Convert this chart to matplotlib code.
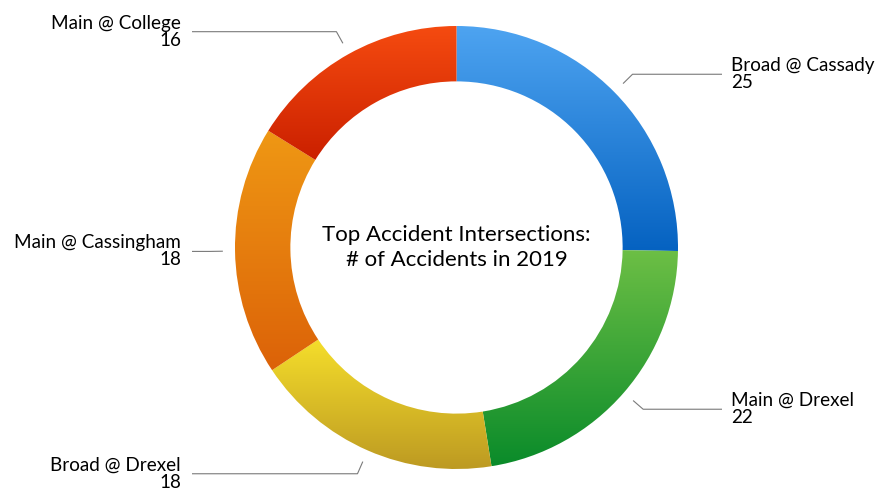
import numpy as np
import matplotlib
matplotlib.use("Agg")
import matplotlib.pyplot as plt
from matplotlib.colors import to_rgb

categories = ["Broad @ Cassady", "Main @ Drexel", "Broad @ Drexel", "Main @ Cassingham", "Main @ College"]
values = [25, 22, 18, 18, 16]
top_colors = ["#4ea4f1", "#6dbf45", "#f5de2b", "#ef9814", "#f54b10"]
bottom_colors = ["#0562c1", "#0a8b2a", "#bd9a22", "#dc6208", "#cb2000"]
center_title = "Top Accident Intersections:\n# of Accidents in 2019"

FONT = ["Lato", "DejaVu Sans"]
W, H = 875, 489
fig = plt.figure(figsize=(W / 100, H / 100), dpi=100)
ax = fig.add_axes([0, 0, 1, 1])

cx, cy = 456.5, H - 248.5
R = 221.5
wedges, _ = ax.pie(values, startangle=90, counterclock=False, radius=R,
                   center=(cx, cy), wedgeprops=dict(width=R * 0.25, linewidth=0))

for w, ct, cb in zip(wedges, top_colors, bottom_colors):
    w.set_facecolor("none")
    w.set_edgecolor("none")
    ext = w.get_path().get_extents()
    t = np.linspace(0, 1, 256)[:, None]
    c0 = np.array(to_rgb(cb))
    c1 = np.array(to_rgb(ct))
    grad = (c0[None, :] * (1 - t) + c1[None, :] * t)[:, None, :]
    im = ax.imshow(grad, extent=[ext.x0, ext.x1, ext.y0, ext.y1], origin="lower",
                   interpolation="bilinear", zorder=1)
    im.set_clip_path(w)

for w, cat, val in zip(wedges, categories, values):
    mid = np.deg2rad((w.theta1 + w.theta2) / 2)
    x0, y0 = cx + R * 1.055 * np.cos(mid), cy + R * 1.055 * np.sin(mid)
    x1, y1 = cx + R * 1.115 * np.cos(mid), cy + R * 1.115 * np.sin(mid)
    if np.cos(mid) >= 0:
        x2, tx, ha = 722, 731, "left"
    else:
        x2, tx, ha = 192, 181, "right"
    ax.plot([x0, x1, x2], [y0, y1, y1], color="#7a7a7a", lw=0.8, zorder=2,
            solid_capstyle="butt")
    ax.text(tx, y1 + 9.5, cat, ha=ha, va="center", fontsize=13.6, family=FONT, color="black")
    ax.text(tx, y1 - 7.5, str(val), ha=ha, va="center", fontsize=13.6, family=FONT, color="black")

ax.text(cx, cy + 1, center_title, ha="center", va="center", fontsize=16,
        family=FONT, color="black", linespacing=1.3)

ax.set_xlim(0, W)
ax.set_ylim(0, H)
ax.set_aspect("auto")
ax.axis("off")
fig.savefig("out.png", dpi=100)
